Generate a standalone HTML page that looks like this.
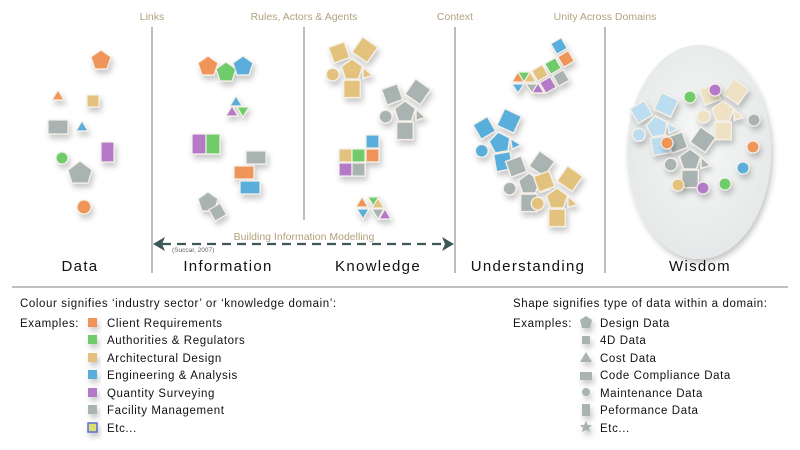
<!DOCTYPE html>
<html><head><meta charset="utf-8"><style>
html,body{margin:0;padding:0;background:#fff;}
svg{display:block;font-family:"Liberation Sans",sans-serif;}
.t{fill:#b3a07c;font-size:10.5px;}
.h{fill:#111;font-size:15px;letter-spacing:1.3px;text-anchor:middle;}
.l{fill:#111;font-size:11.5px;letter-spacing:0.6px;}
</style></head><body>
<svg width="800" height="450" viewBox="0 0 800 450" xmlns="http://www.w3.org/2000/svg">
<defs>
<filter id="sh" x="-50%" y="-50%" width="200%" height="200%"><feDropShadow dx="2" dy="4" stdDeviation="3" flood-color="#000" flood-opacity="0.22"/></filter>
<radialGradient id="eg" cx="0.5" cy="0.45" r="0.6"><stop offset="0" stop-color="#f7f8f8"/><stop offset="1" stop-color="#e4e7e7"/></radialGradient>
<g id="cl" stroke="#f4f0e8" stroke-width="1.5">
 <rect x="-9" y="11" width="18" height="19"/>
 <rect x="-9" y="-9" width="18" height="18" transform="translate(-14,-19) rotate(-20)"/>
 <rect x="-10" y="-10" width="20" height="20" transform="translate(14,-22) rotate(35)"/>
 <circle cx="-21" cy="5" r="7"/>
 <polygon points="12,-3 22,6 12,9"/>
 <polygon points="0,-12 11.4,-3.7 7,9.7 -7,9.7 -11.4,-3.7"/>
</g>
</defs>

<text class="t" x="152" y="20" text-anchor="middle">Links</text>
<text class="t" x="304" y="20" text-anchor="middle">Rules, Actors &amp; Agents</text>
<text class="t" x="455" y="20" text-anchor="middle">Context</text>
<text class="t" x="605" y="20" text-anchor="middle">Unity Across Domains</text>

<g stroke="#999" stroke-width="1.3">
<line x1="152" y1="27" x2="152" y2="273"/>
<line x1="304" y1="27" x2="304" y2="220"/>
<line x1="455" y1="27" x2="455" y2="273"/>
<line x1="605" y1="27" x2="605" y2="273"/>
</g>
<line x1="12" y1="287" x2="788" y2="287" stroke="#aaa" stroke-width="1.5"/>

<ellipse cx="699" cy="152" rx="72" ry="107" fill="url(#eg)" filter="url(#sh)"/>

<g filter="url(#sh)" stroke="#f4f0e8" stroke-width="1.2">
<polygon points="101,50 111,57 107,69 95,69 91,57" fill="#f0955a"/>
<polygon points="58,90 64,100 52,100" fill="#f0955a"/>
<rect x="87" y="95" width="12" height="12" fill="#e2c27c"/>
<rect x="48" y="120" width="20" height="14" fill="#a9b3b2"/>
<polygon points="82,121 88,131 76,131" fill="#5aaedc"/>
<circle cx="62" cy="158" r="6" fill="#6fcb6a"/>
<rect x="101" y="142" width="13" height="20" fill="#b57ac7"/>
<polygon points="80,161 92,170 88,183 72,183 68,170" fill="#a9b3b2"/>
<circle cx="84" cy="207" r="7" fill="#f0955a"/>

<polygon points="208,56 218,63 214,75 202,75 198,63" fill="#f0955a"/>
<polygon points="226,62 236,69 232,81 220,81 216,69" fill="#6fcb6a"/>
<polygon points="243,56 253,63 249,75 237,75 233,63" fill="#5aaedc"/>
<polygon points="236,96 242,106 230,106" fill="#5aaedc"/>
<polygon points="232,106 238,116 226,116" fill="#b57ac7"/>
<polygon points="237,107 249,107 243,117" fill="#6fcb6a"/>
<rect x="192" y="134" width="14" height="20" fill="#b57ac7"/>
<rect x="206" y="134" width="14" height="20" fill="#6fcb6a"/>
<rect x="246" y="151" width="20" height="13" fill="#a9b3b2"/>
<rect x="234" y="166" width="20" height="13" fill="#f0955a"/>
<rect x="240" y="181" width="20" height="13" fill="#5aaedc"/>
<polygon points="208,192 218,199 214,211 202,211 198,199" fill="#a9b3b2"/>
<rect x="211" y="206" width="13" height="13" transform="rotate(-30 217 212)" fill="#a9b3b2"/>

<rect x="366" y="135" width="13" height="13" fill="#5aaedc"/>
<rect x="339" y="149" width="13" height="13" fill="#e2c27c"/>
<rect x="352" y="149" width="13" height="13" fill="#6fcb6a"/>
<rect x="366" y="149" width="13" height="13" fill="#f0955a"/>
<rect x="339" y="163" width="13" height="13" fill="#b57ac7"/>
<rect x="352" y="163" width="13" height="13" fill="#a9b3b2"/>
<polygon points="362,197 368,207 356,207" fill="#f0955a"/>
<polygon points="368,197 380,197 374,207" fill="#6fcb6a"/>
<polygon points="378,198 384,208 372,208" fill="#e2c27c"/>
<polygon points="357,209 369,209 363,219" fill="#5aaedc"/>
<polygon points="372,209 384,209 378,219" fill="#a9b3b2"/>
<polygon points="385,209 391,219 379,219" fill="#b57ac7"/>

<!-- Understanding top -->
<rect x="-6" y="-6" width="12" height="12" transform="translate(559,46) rotate(-30)" fill="#5aaedc"/>
<rect x="-6" y="-6" width="12" height="12" transform="translate(566,59) rotate(-30)" fill="#f0955a"/>
<rect x="-6" y="-6" width="12" height="12" transform="translate(553,66) rotate(-30)" fill="#6fcb6a"/>
<rect x="-6" y="-6" width="12" height="12" transform="translate(540,73) rotate(-30)" fill="#e2c27c"/>
<rect x="-6" y="-6" width="12" height="12" transform="translate(561,78) rotate(-30)" fill="#a9b3b2"/>
<rect x="-6" y="-6" width="12" height="12" transform="translate(548,85) rotate(-30)" fill="#b57ac7"/>
<polygon points="512,82 518,72 524,82" fill="#f0955a"/>
<polygon points="518,72 530,72 524,82" fill="#6fcb6a"/>
<polygon points="524,82 530,72 536,82" fill="#e2c27c"/>
<polygon points="512,84 524,84 518,93" fill="#5aaedc"/>
<polygon points="526,84 538,84 532,93" fill="#a9b3b2"/>
<polygon points="532,93 538,83 544,93" fill="#b57ac7"/>
</g>

<g filter="url(#sh)">
<use href="#cl" transform="translate(352,70) scale(0.92)" fill="#e2c27c"/>
<use href="#cl" transform="translate(405,112) scale(0.92)" fill="#a9b3b2"/>
<use href="#cl" transform="translate(500,143) rotate(-10) scale(0.92)" fill="#5aaedc"/>
<use href="#cl" transform="translate(529,184) scale(0.92)" fill="#a9b3b2"/>
<use href="#cl" transform="translate(557,199) scale(0.92)" fill="#e2c27c"/>
<use href="#cl" transform="translate(657,127) rotate(-10) scale(0.92)" fill="#bcdcf0"/>
<use href="#cl" transform="translate(723,112) scale(0.92)" fill="#efe2c4"/>
<use href="#cl" transform="translate(690,160) scale(0.92)" fill="#a9b3b2"/>
</g>
<g filter="url(#sh)" stroke="#f4f0e8" stroke-width="1.2">
<circle cx="690" cy="97" r="6" fill="#6fcb6a"/>
<circle cx="715" cy="90" r="6" fill="#b57ac7"/>
<circle cx="754" cy="120" r="6" fill="#a9b3b2"/>
<circle cx="667" cy="143" r="6" fill="#f0955a"/>
<circle cx="753" cy="147" r="6" fill="#f0955a"/>
<circle cx="743" cy="168" r="6" fill="#5aaedc"/>
<circle cx="725" cy="184" r="6" fill="#6fcb6a"/>
<circle cx="703" cy="188" r="6" fill="#b57ac7"/>
<circle cx="678" cy="185" r="6" fill="#e2c27c"/>
</g>

<text class="t" x="304" y="240" text-anchor="middle">Building Information Modelling</text>
<line x1="162" y1="244" x2="445" y2="244" stroke="#3d5858" stroke-width="2.2" stroke-dasharray="9,6"/>
<polygon points="153,244 165,237 162,244 165,251" fill="#3d5858"/>
<polygon points="454,244 442,237 445,244 442,251" fill="#3d5858"/>
<text x="172" y="252" font-size="6.5" fill="#666">(Succar, 2007)</text>

<text class="h" x="80" y="271">Data</text>
<text class="h" x="228" y="271">Information</text>
<text class="h" x="378" y="271">Knowledge</text>
<text class="h" x="528" y="271">Understanding</text>
<text class="h" x="700" y="271">Wisdom</text>

<text class="l" x="20" y="307">Colour signifies ‘industry sector’ or ‘knowledge domain’:</text>
<text class="l" x="20" y="327">Examples:</text>
<g filter="url(#sh)">
<rect x="88" y="318" width="9" height="9" fill="#f0955a"/>
<rect x="88" y="335" width="9" height="9" fill="#6fcb6a"/>
<rect x="88" y="353" width="9" height="9" fill="#e2c27c"/>
<rect x="88" y="370" width="9" height="9" fill="#5aaedc"/>
<rect x="88" y="388" width="9" height="9" fill="#b57ac7"/>
<rect x="88" y="405" width="9" height="9" fill="#a9b3b2"/>
<rect x="88" y="423" width="9" height="9" fill="#d8e070" stroke="#5a6cd8" stroke-width="1.5"/>
</g>
<text class="l" x="107" y="327">Client Requirements</text>
<text class="l" x="107" y="344">Authorities &amp; Regulators</text>
<text class="l" x="107" y="362">Architectural Design</text>
<text class="l" x="107" y="379">Engineering &amp; Analysis</text>
<text class="l" x="107" y="397">Quantity Surveying</text>
<text class="l" x="107" y="414">Facility Management</text>
<text class="l" x="107" y="432">Etc...</text>

<text class="l" x="513" y="307">Shape signifies type of data within a domain:</text>
<text class="l" x="513" y="327">Examples:</text>
<g filter="url(#sh)" fill="#a9b3b2">
<polygon points="586,316 592,320 590,328 582,328 580,320"/>
<rect x="582" y="336" width="8" height="8"/>
<polygon points="586,352 592,362 580,362"/>
<rect x="580" y="372" width="12" height="8"/>
<circle cx="586" cy="392" r="4"/>
<rect x="582" y="404" width="8" height="12"/>
<polygon points="586,421 588,425 592,425 589,428 590,432 586,430 582,432 583,428 580,425 584,425"/>
</g>
<text class="l" x="600" y="327">Design Data</text>
<text class="l" x="600" y="344">4D Data</text>
<text class="l" x="600" y="362">Cost Data</text>
<text class="l" x="600" y="379">Code Compliance Data</text>
<text class="l" x="600" y="397">Maintenance Data</text>
<text class="l" x="600" y="414">Peformance Data</text>
<text class="l" x="600" y="432">Etc...</text>
</svg>
</body></html>
